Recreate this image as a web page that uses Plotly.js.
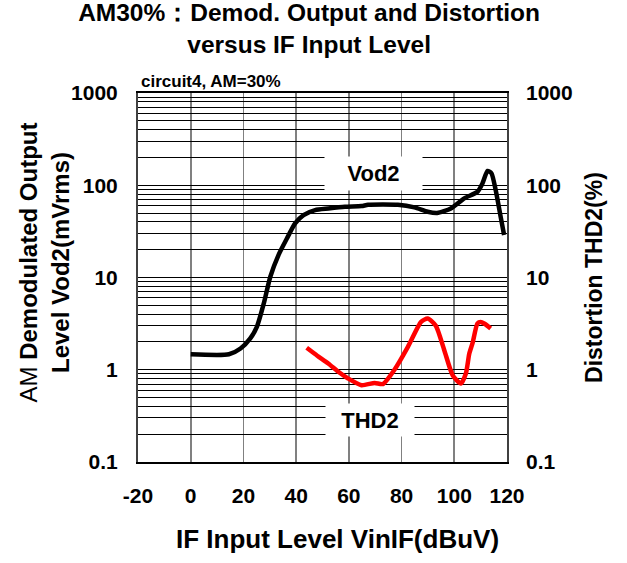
<!DOCTYPE html>
<html>
<head>
<meta charset="utf-8">
<script src="https://cdn.plot.ly/plotly-3.0.1.min.js"></script>
<style>html,body{margin:0;padding:0;background:#fff;}#chart{width:627px;height:563px;}</style>
</head>
<body>
<div id="chart"></div>
<script>
// Data
const vodX = [0, 14.5, 18.9, 22.6, 25.1, 27.7, 30.2, 33.3, 36.5, 39.6, 42.8, 47.2, 52.2, 58.5, 64.8, 67.3, 78.6, 84.9, 89.9, 93.5, 98.7, 103.8, 108.8, 110.7, 112.6, 114.1, 115.7, 117.6, 118.9];
const vod2 = [1.47, 1.47, 1.70, 2.19, 2.92, 5.2, 10.2, 17.5, 26.5, 38.6, 47.5, 53.8, 56, 58.5, 59.5, 61.5, 61.5, 57.5, 51.6, 50, 56, 72, 85, 105, 143, 135, 88.7, 45.5, 28.9];
const thdX = [44, 48, 52.2, 56, 59.7, 64.8, 69.8, 72.9, 77.3, 82.4, 87.4, 89.9, 93, 96.2, 99.4, 102.5, 104.4, 105.7, 106.9, 108.8, 110, 111.5, 113.8];
const thd2 = [1.73, 1.42, 1.17, 0.95, 0.805, 0.68, 0.72, 0.70, 1.0, 1.77, 3.3, 3.6, 3.0, 1.63, 0.87, 0.71, 0.91, 1.5, 1.93, 3.18, 3.3, 3.15, 2.8];
const xTicks = [-20, 0, 20, 40, 60, 80, 100, 120];
const yDecades = [0.1, 1, 10, 100, 1000];
const yDecadeLabels = ['0.1', '1', '10', '100', '1000'];

// log grid values (decades plus 2..9 multiples) built from the decades
const yGridVals = [];
const yGridText = [];
yDecades.forEach((d, i) => {
  yGridVals.push(d); yGridText.push(yDecadeLabels[i]);
  if (i < yDecades.length - 1) {
    for (let m = 2; m <= 9; m++) { yGridVals.push(+(d * m).toPrecision(3)); yGridText.push(''); }
  }
});

const FONT = '"Liberation Sans", Arial, sans-serif';

const traces = [
  { x: vodX, y: vod2, type: 'scatter', mode: 'lines', name: 'Vod2',
    line: { color: '#000000', width: 4.5, shape: 'spline', smoothing: 0.6 }, yaxis: 'y' },
  { x: thdX, y: thd2, type: 'scatter', mode: 'lines', name: 'THD2',
    line: { color: '#ff0000', width: 4.5, shape: 'spline', smoothing: 0.6 }, yaxis: 'y2' }
];

const layout = {
  width: 627, height: 563,
  margin: { l: 138, r: 120, t: 93, b: 101 },
  paper_bgcolor: '#ffffff', plot_bgcolor: '#ffffff',
  showlegend: false,
  font: { family: FONT, color: '#000000' },
  title: {
    text: '<b>AM30%：Demod. Output and Distortion<br>versus IF Input Level</b>',
    font: { family: FONT, size: 24.5, color: '#000' },
    x: 0.493, xanchor: 'center', xref: 'container',
    y: 0.963, yanchor: 'middle', yref: 'container'
  },
  xaxis: {
    range: [-20, 120], tickvals: xTicks, ticktext: xTicks.map(String),
    showgrid: true, gridcolor: '#808080', gridwidth: 1.6,
    zeroline: false, showline: true, linecolor: '#000', linewidth: 2, mirror: true,
    ticks: '', ticklabelstandoff: 14,
    tickfont: { family: FONT, size: 21, weight: 'bold', color: '#000' }
  },
  yaxis: {
    type: 'log', range: [-1, 3], tickvals: yGridVals, ticktext: yGridText,
    showgrid: true, gridcolor: '#000000', gridwidth: 1,
    zeroline: false, showline: true, linecolor: '#404040', linewidth: 2, mirror: true,
    ticks: '', ticklabelstandoff: 14,
    tickfont: { family: FONT, size: 21, weight: 'bold', color: '#000' }
  },
  yaxis2: {
    type: 'log', range: [-1, 3], overlaying: 'y', side: 'right',
    tickvals: yDecades, ticktext: yDecadeLabels,
    showgrid: false, zeroline: false, showline: false,
    ticks: '', ticklabelstandoff: 18,
    tickfont: { family: FONT, size: 21, weight: 'bold', color: '#000' },
    title: { text: '<b>Distortion THD2(%)</b>', font: { family: FONT, size: 23, color: '#000' }, standoff: 14 }
  },
  annotations: [
    { xref: 'paper', yref: 'paper', x: -0.2534, y: 0.542, xanchor: 'center', yanchor: 'middle', textangle: -90,
      text: 'AM <b>Demodulated Output</b><br><b>Level Vod2(mVrms)</b>', showarrow: false,
      font: { family: FONT, size: 24, color: '#000' } },
    { xref: 'paper', yref: 'paper', x: 0.542, y: -0.21, xanchor: 'center', yanchor: 'middle',
      text: '<b>IF Input Level VinIF(dBuV)</b>', showarrow: false, font: { family: FONT, size: 26, color: '#000' } },
    { xref: 'paper', yref: 'paper', x: 0.003, y: 1.0, xanchor: 'left', yanchor: 'bottom',
      text: '<b>circuit4, AM=30%</b>', showarrow: false, font: { family: FONT, size: 17, color: '#000' } },
    { xref: 'x', yref: 'y', x: 69.2, y: 2.13, text: '<b>Vod2</b>', showarrow: false,
      bgcolor: '#ffffff', width: 95, height: 31, font: { family: FONT, size: 22, color: '#000' } },
    { xref: 'x', yref: 'y', x: 68, y: -0.55, text: '<b>THD2</b>', showarrow: false,
      bgcolor: '#ffffff', width: 86, height: 30, font: { family: FONT, size: 22, color: '#000' } }
  ]
};

Plotly.newPlot('chart', traces, layout, { staticPlot: true, displayModeBar: false });
</script>
</body>
</html>
